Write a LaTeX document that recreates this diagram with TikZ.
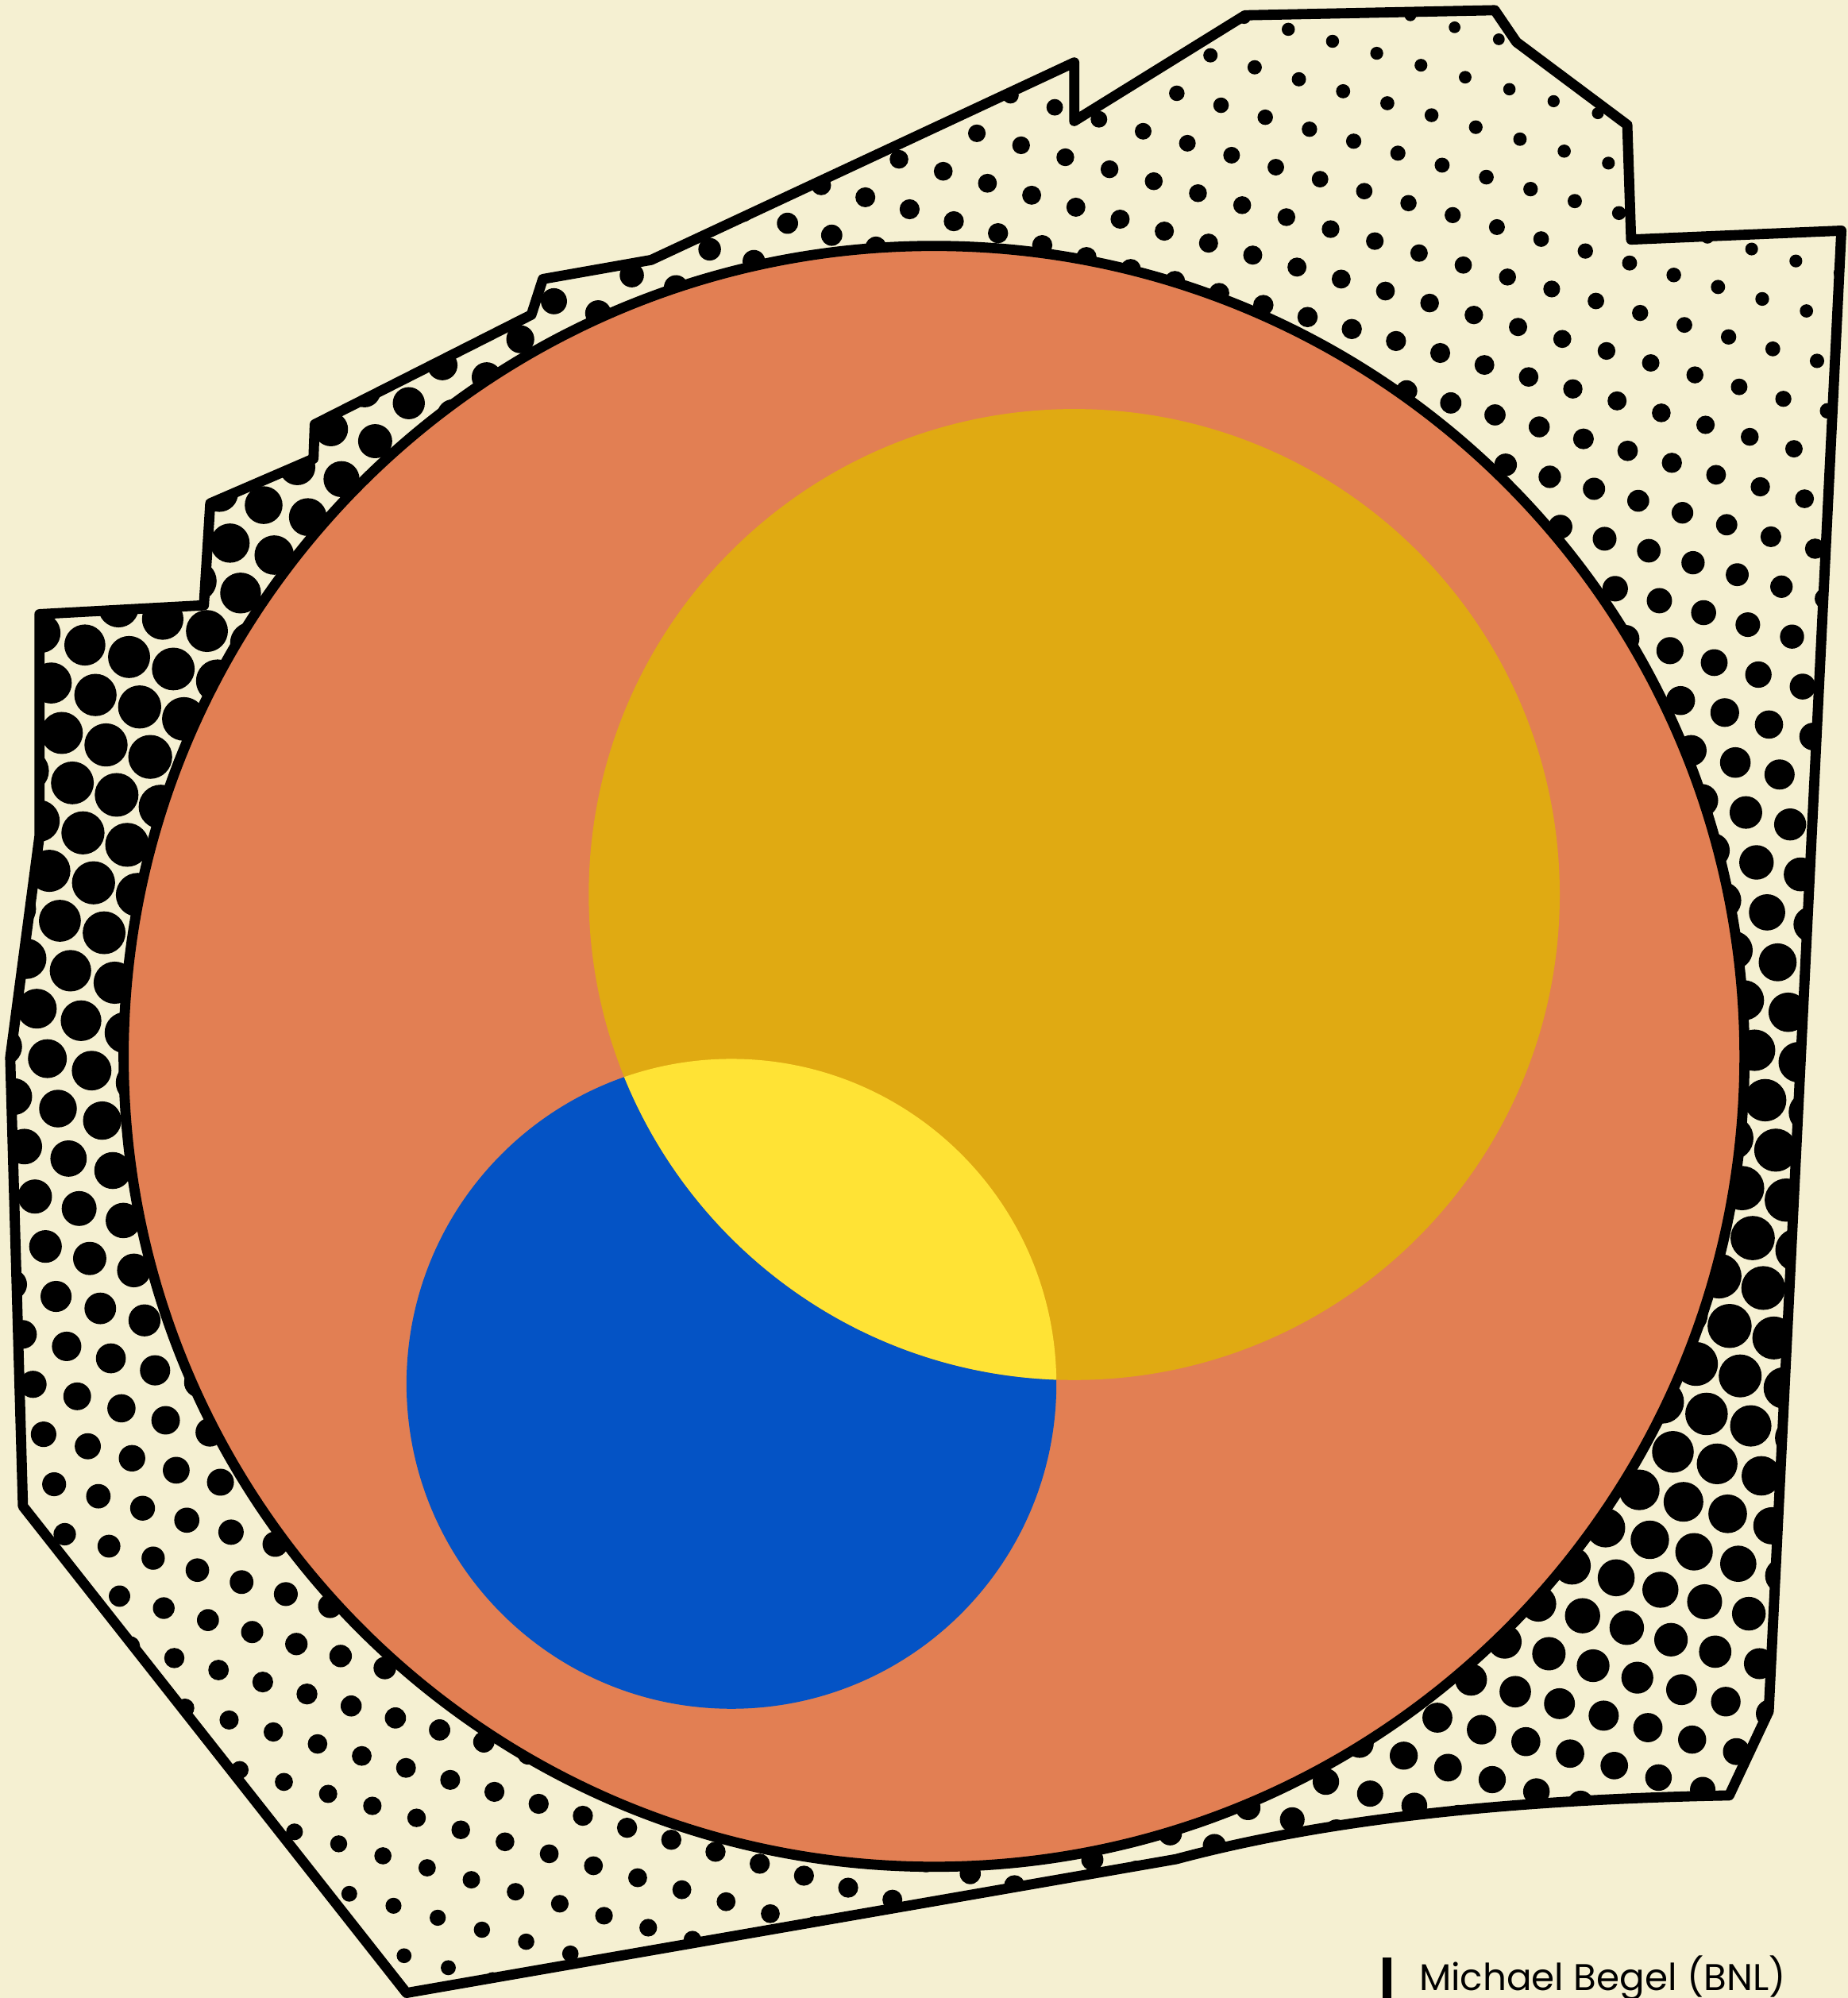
\documentclass[tikz,border=0pt]{standalone}
\usepackage{fontspec}
\setmainfont{Poppins}
\usetikzlibrary{positioning}

\definecolor{cream}{HTML}{F5F0D2}
\definecolor{coral}{HTML}{E27F53}
\definecolor{gold}{HTML}{E0AA12}
\definecolor{lemon}{HTML}{FFE335}
\definecolor{cobalt}{HTML}{0453C5}

\newcommand{\hull}{(31,482) -- (160,475) -- (165,395) -- (246,360) -- (247,333)
  -- (417,247) -- (426,219) -- (511,204) -- (843,49) -- (843,95) -- (977,12)
  -- (1173,8) -- (1190,33) -- (1277,98) -- (1280,188) -- (1445,181)
  -- (1388,1343) -- (1357,1409) .. controls (1200,1412) and (1050,1425) .. (923,1459)
  -- (319,1564) -- (18,1182) -- (8,830) -- (31,656) -- cycle}

\begin{document}
\begin{tikzpicture}[x=0.1mm, y=-0.1mm, line join=round,
  every node/.style={inner sep=0pt, font=\fontsize{8.3}{10}\selectfont}]
  \useasboundingbox (0,0) rectangle (1450,1568);
  \fill[cream] (0,0) rectangle (1450,1568);

  \coordinate (disc) at (733,829);
  \coordinate (sun)  at (843,702);
  \coordinate (moon) at (574,1086);

  % halftone dots inside the outline
  \begin{scope}
    \clip \hull;
    \foreach \i in {-41,...,14}{
      \foreach \j in {-4,...,50}{
        \pgfmathsetmacro\px{1011+34.7*\i+8.3*\j}
        \pgfmathsetmacro\py{23+9.4*\i+39.2*\j}
        \pgfmathsetmacro\dd{veclen((\px-733)/100,(\py-829)/100)}
        \pgfmathtruncatemacro\keep{(\px>-20)*(\px<1470)*(\py>-20)*(\py<1590)*(\dd>6.15)}
        \ifnum\keep=1
          \pgfmathsetmacro\rr{max(4.5,7.5-1.2*(\dd-6.5))
            +10*exp(-min(9,(\px/100-0.6)^2/18+(\py/100-6)^2/28.88))
            +10*exp(-min(9,((\px/100-13.8)^2+(\py/100-10)^2)/21.78))}
          \fill (\px,\py) circle[radius=\rr*0.1mm];
        \fi
      }
    }
  \end{scope}

  \filldraw[fill=coral, line width=0.8mm] (disc) circle[radius=636];
  \fill[cobalt] (moon) circle[radius=255];
  \fill[gold] (sun) circle[radius=381];
  \begin{scope}
    \clip (moon) circle[radius=255];
    \fill[lemon] (sun) circle[radius=381];
  \end{scope}

  \draw[line width=0.8mm] \hull;

  \fill (1085,1536) rectangle (1092,1568);
  \node[anchor=base west] (credit) at (1113,1562) {Michael Begel (BNL)};
\end{tikzpicture}
\end{document}
